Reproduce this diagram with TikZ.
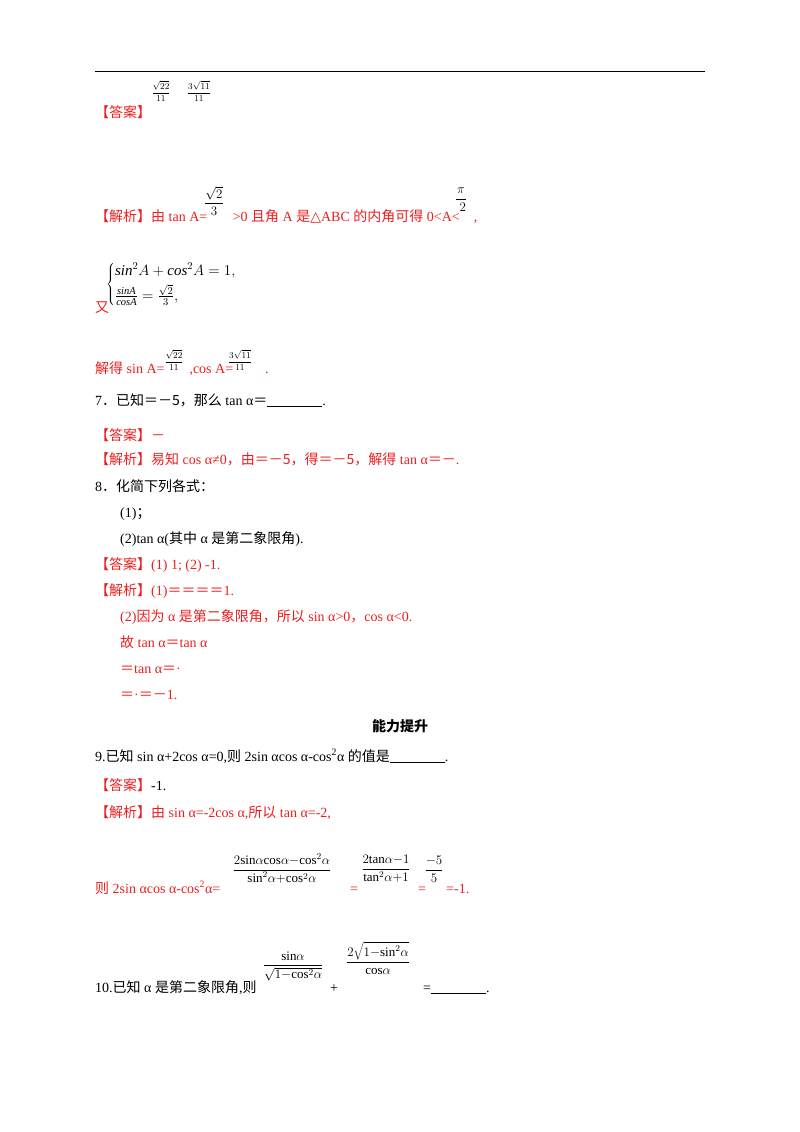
\documentclass[tikz,border=0pt]{standalone}
\usepackage{fontspec}
\usepackage{fix-cm}
\setmainfont{Liberation Serif}
\newfontfamily\cjk{Noto Sans CJK SC}
\newfontfamily\dv{DejaVu Sans}
\definecolor{ansred}{RGB}{235,30,30}
\begin{document}
\begin{tikzpicture}[x=1pt,y=-1pt,
  txt/.style={anchor=base west,inner sep=0pt,font=\fontsize{14}{16}\selectfont},
  red/.style={txt,text=ansred},
  fr/.style={anchor=center,inner sep=0pt,font=\fontsize{9}{11}\selectfont},
  frb/.style={anchor=center,inner sep=0pt,font=\fontsize{13}{15}\selectfont}]
\useasboundingbox (0,0) rectangle (800,1132);
\draw[line width=0.8pt] (95,71) -- (705,71);
\node[fr] (f1) at (161,91) {$\displaystyle\frac{\sqrt{22}}{11}$};
\node[fr] (f2) at (199,91) {$\displaystyle\frac{3\sqrt{11}}{11}$};
\node[red] (a1) at (95,117) {{\cjk 【答案】}};
\node[frb] (f3) at (214,201) {$\displaystyle\frac{\sqrt{2}}{\,3\,}$};
\node[frb] (f4) at (461,200) {$\displaystyle\frac{\pi}{\;2}$};
\node[red] (j1) at (95,221) {{\cjk 【解析】由} tan A=\hspace{22pt} >0 {\cjk 且角} A {\cjk 是}{\dv △}ABC {\cjk 的内角可得} 0<A<\hspace{14pt},};
\node[anchor=west,inner sep=0pt,font=\fontsize{15}{18}\selectfont] (sys) at (106,284) {$\left\{\begin{array}{@{}l@{}} \mathit{sin}^2A+\mathit{cos}^2A=1,\\[4pt] \frac{\mathit{sinA}}{\mathit{cosA}}=\frac{\sqrt2}{3},\end{array}\right.$};
\node[red] (you) at (95,312) {{\cjk 又}};
\node[red] (j2) at (95,373) {{\cjk 解得} sin A=\hspace{25pt},cos A=\hspace{32pt}.};
\node[fr] (f5) at (174,360) {$\displaystyle\frac{\sqrt{22}}{11}$};
\node[fr] (f6) at (240,360) {$\displaystyle\frac{3\sqrt{11}}{11}$};
\node[txt] (q7) at (95,405) {7{\cjk ．已知＝－5，那么} tan α{\cjk ＝}\underline{\hspace{55pt}}.};
\node[red] (a7) at (95,440) {{\cjk 【答案】－}};
\node[red] (j7) at (95,464) {{\cjk 【解析】易知} cos α≠0{\cjk ，由＝－5，得＝－5，解得} tan α{\cjk ＝－}.};
\node[txt] (q8) at (95,491) {8{\cjk ．化简下列各式：}};
\node[txt] (q81) at (120,517) {(1){\cjk ；}};
\node[txt] (q82) at (120,543) {(2)tan α({\cjk 其中} α {\cjk 是第二象限角}).};
\node[red] (a8) at (95,569) {{\cjk 【答案】}(1) 1; (2) -1.};
\node[red] (j8) at (95,595) {{\cjk 【解析】}(1){\cjk ＝＝＝＝}1.};
\node[red] (j82) at (120,621) {(2){\cjk 因为} α {\cjk 是第二象限角，所以} sin α>0{\cjk ，}cos α<0.};
\node[red] (j83) at (120,647) {{\cjk 故} tan α{\cjk ＝}tan α};
\node[red] (j84) at (120,673) {{\cjk ＝}tan α{\cjk ＝}·};
\node[red] (j85) at (120,699) {{\cjk ＝}·{\cjk ＝－}1.};
\node[anchor=base,inner sep=0pt,font=\fontsize{14}{16}\selectfont\cjk\bfseries] (nl) at (400,731) {能力提升};
\node[txt] (q9) at (95,761) {9.{\cjk 已知} sin α+2cos α=0,{\cjk 则} 2sin αcos α-cos\textsuperscript{2}α {\cjk 的值是}\underline{\hspace{55pt}}.};
\node[red] (a9) at (95,790) {{\cjk 【答案】}\textcolor{black}{-1.}};
\node[red] (j9) at (95,817) {{\cjk 【解析】由} sin α=-2cos α,{\cjk 所以} tan α=-2,};
\node[red] (j92) at (95,893) {{\cjk 则} 2sin αcos α-cos\textsuperscript{2}α=};
\node[frb] (g1) at (282,869) {$\displaystyle\frac{2\mathrm{sin}\alpha\mathrm{cos}\alpha{-}\mathrm{cos}^2\alpha}{\mathrm{sin}^2\alpha{+}\mathrm{cos}^2\alpha}$};
\node[red] at (350,893) {=};
\node[frb] (g2) at (386,869) {$\displaystyle\frac{2\mathrm{tan}\alpha{-}1}{\mathrm{tan}^2\alpha{+}1}$};
\node[red] at (418,893) {=};
\node[frb] (g3) at (434,869) {$\displaystyle\frac{-5}{5}$};
\node[red] (g4) at (446,893) {=-1.};
\node[txt] (q10) at (95,992) {10.{\cjk 已知} α {\cjk 是第二象限角},{\cjk 则}};
\node[frb] (h1) at (293,966) {$\displaystyle\frac{\mathrm{sin}\alpha}{\sqrt{1{-}\mathrm{cos}^2\alpha}}$};
\node[txt] at (330,992) {+};
\node[frb] (h2) at (378,958) {$\displaystyle\frac{2\sqrt{1{-}\mathrm{sin}^2\alpha}}{\mathrm{cos}\alpha}$};
\node[txt] (eq) at (423,992) {=\underline{\hspace{55pt}}.};
\end{tikzpicture}
\end{document}
